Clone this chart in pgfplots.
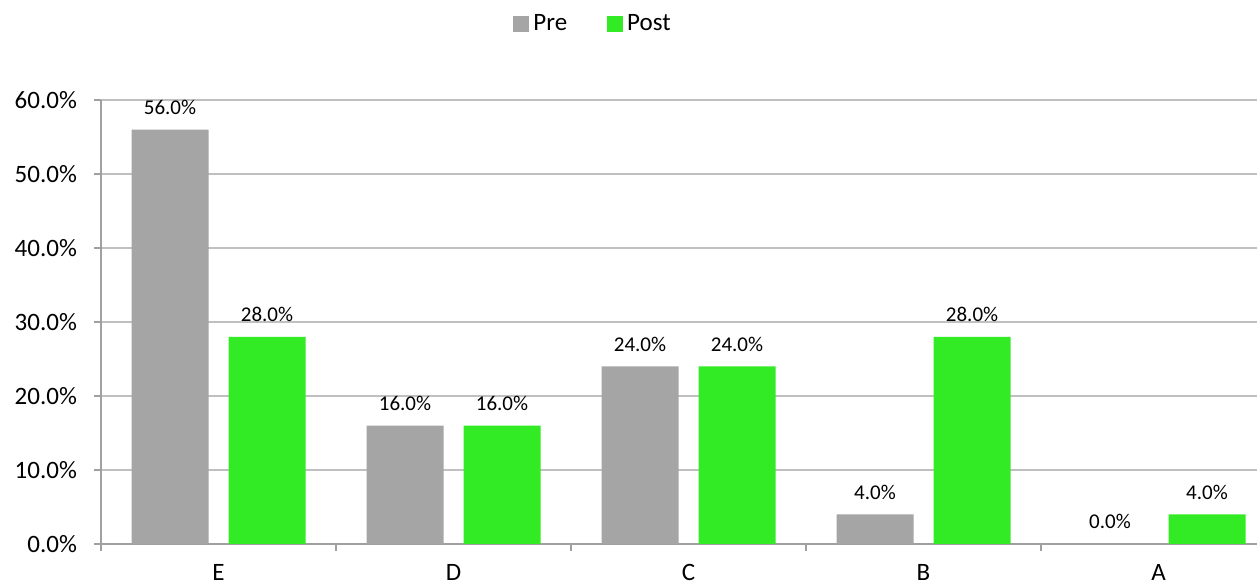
\documentclass[border=0pt]{standalone}
\usepackage{pgfplots}
\pgfplotsset{compat=1.18}
\usepackage{fontspec}
\setmainfont{Carlito}
\definecolor{preGrey}{RGB}{165,165,165}
\definecolor{postGreen}{RGB}{51,235,36}
\definecolor{axGrey}{RGB}{160,160,160}
\definecolor{gridGrey}{RGB}{192,192,192}
\begin{document}
\begin{tikzpicture}
\path[use as bounding box] (0,0) rectangle (628.5pt,293.5pt);
\begin{axis}[
  at={(50.5pt,21.5pt)}, anchor=south west,
  scale only axis, width=578pt, height=222pt,
  xmin=-0.5, xmax=4.419, ymin=0, ymax=60,
  axis x line*=bottom, axis y line*=left,
  axis line style={axGrey, line width=0.8pt},
  xtick={0,1,2,3,4}, xticklabels={E,D,C,B,A},
  major x tick style={draw=none},
  minor xtick={-0.5,0.5,1.5,2.5,3.5},
  minor x tick style={axGrey, line width=0.8pt},
  minor tick length=3.5pt,
  ytick={0,10,...,60},
  major y tick style={axGrey, line width=0.8pt},
  major tick length=3.5pt,
  tick align=outside,
  ymajorgrids, grid style={gridGrey, line width=0.8pt},
  /pgf/number format/assume math mode=true,
  yticklabel={\pgfmathprintnumber[fixed,fixed zerofill,precision=1]{\tick}\%},
  ticklabel style={font=\fontsize{12.5}{15}\selectfont},
  xticklabel style={yshift=-3pt},
  yticklabel style={xshift=-5pt},
  ybar, bar width=38.5pt,
  nodes near coords={\pgfmathprintnumber[fixed,fixed zerofill,precision=1]{\pgfplotspointmeta}\%},
  every node near coord/.append style={font=\fontsize{10.5}{12}\selectfont, yshift=4pt, black},
  legend style={at={(0.4265,1.172)}, anchor=center, draw=none, legend columns=2,
    font=\fontsize{12.5}{15}\selectfont,
    /tikz/every even column/.append style={column sep=18pt}},
  legend image code/.code={\fill[#1] (0pt,-4pt) rectangle (8pt,4pt);},
]
\addplot[fill=preGrey, draw=none, bar shift=-24.25pt] coordinates {(0,56) (1,16) (2,24) (3,4) (4,0)};
\addplot[fill=postGreen, draw=none, bar shift=24.25pt] coordinates {(0,28) (1,16) (2,24) (3,28) (4,4)};
\legend{Pre,Post}
\end{axis}
\end{tikzpicture}
\end{document}
